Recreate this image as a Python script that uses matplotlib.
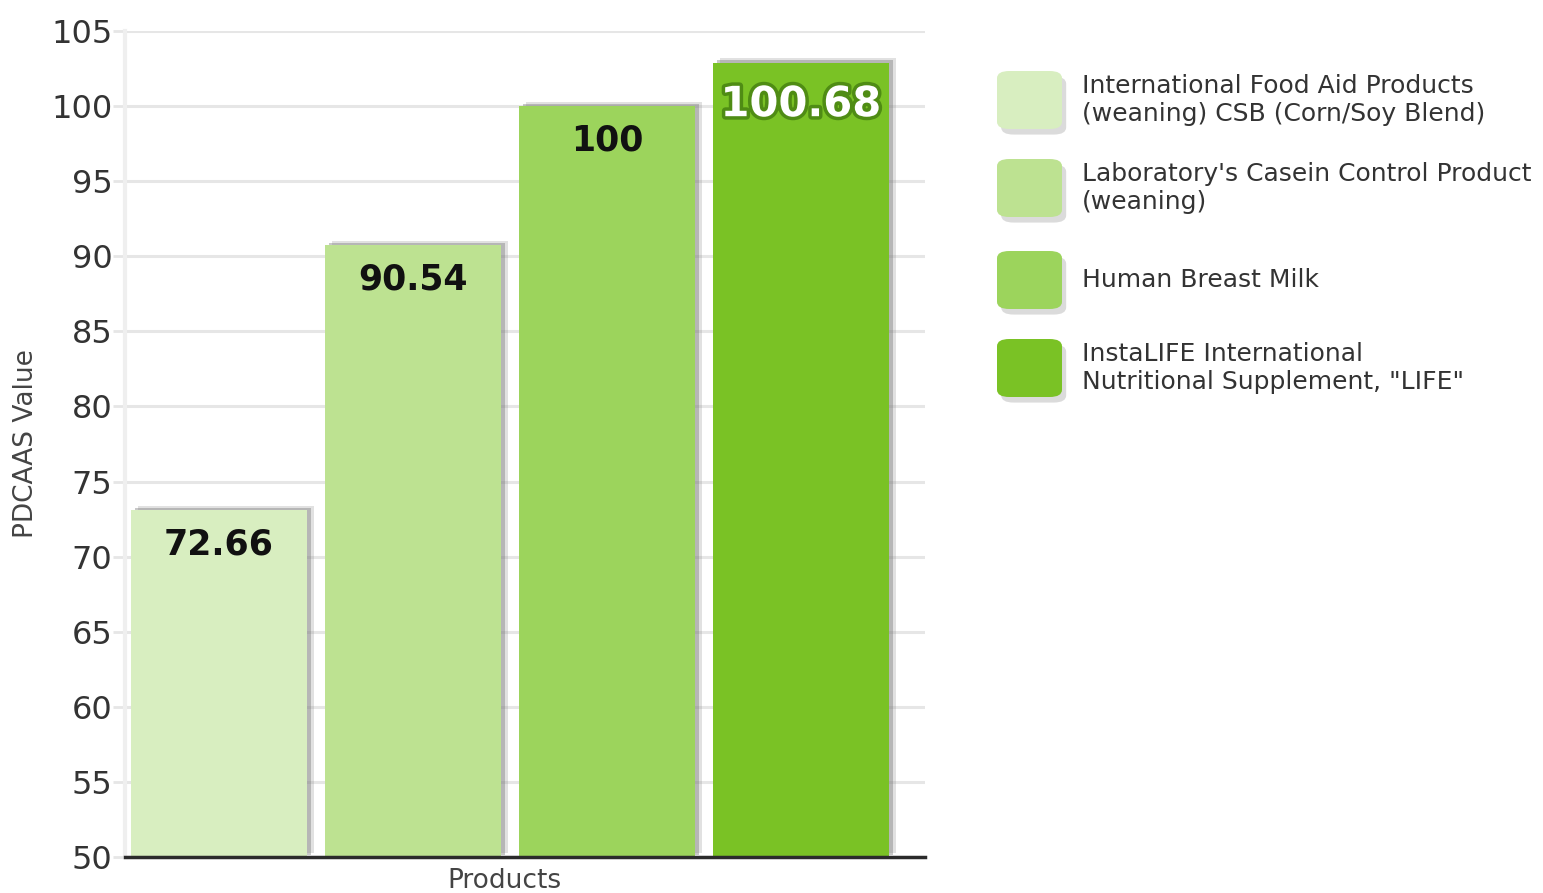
import matplotlib
matplotlib.use('Agg')
import matplotlib.pyplot as plt
import matplotlib.patheffects as pe
from matplotlib.patches import FancyBboxPatch
import numpy as np

products = ['International Food Aid Products\n(weaning) CSB (Corn/Soy Blend)',
            "Laboratory's Casein Control Product\n(weaning)",
            'Human Breast Milk',
            'InstaLIFE International\nNutritional Supplement, "LIFE"']
# bar heights as drawn in the picture, and the printed labels
heights = [73.1, 90.75, 100.0, 102.9]
labels = ['72.66', '90.54', '100', '100.68']
colors = ['#d8eec0', '#bde291', '#9cd45c', '#7ac225']
yticks = list(range(50, 106, 5))

plt.rcParams['font.family'] = ['DejaVu Sans']

fig = plt.figure(figsize=(15.43, 8.93), dpi=100)
ax = fig.add_axes([0.081, 0.0403, 0.5185, 0.925])

x = np.arange(len(heights))
shadow = [pe.SimplePatchShadow(offset=(5, 3), shadow_rgbFace='#888888', alpha=0.25),
          pe.SimplePatchShadow(offset=(3, 1.5), shadow_rgbFace='#777777', alpha=0.4),
          pe.Normal()]
bars = ax.bar(x, [h - 50 for h in heights], bottom=50, width=0.91, color=colors, zorder=3)
for b in bars:
    b.set_path_effects(shadow)

for xi, h, lab, c in zip(x, heights, labels, colors):
    if lab == '100.68':
        ax.annotate(lab, (xi, h), xytext=(0, -30), textcoords='offset points',
                    ha='center', va='center', fontsize=30, fontweight='bold', color='white',
                    zorder=5, path_effects=[pe.withStroke(linewidth=5, foreground='#4f8c14')])
    else:
        ax.annotate(lab, (xi, h), xytext=(0, -25), textcoords='offset points',
                    ha='center', va='center', fontsize=25, fontweight='bold', color='#111111',
                    zorder=5)

ax.set_xlim(-0.485, 3.64)
ax.set_ylim(50, 105)
ax.set_yticks(yticks)
ax.set_yticklabels([str(t) for t in yticks], fontsize=23, color='#333333')
ax.tick_params(axis='y', length=9, width=2, color='#e6e6e6', pad=0)
ax.set_xticks([])
ax.yaxis.grid(True, color='#e6e6e6', linewidth=2.2, zorder=0)
ax.set_axisbelow(True)
for s in ['top', 'right']:
    ax.spines[s].set_visible(False)
ax.spines['left'].set_color('#efefef')
ax.spines['left'].set_linewidth(3)
ax.spines['bottom'].set_color('#2b2b2b')
ax.spines['bottom'].set_linewidth(2.5)
ax.spines['bottom'].set_zorder(6)

ax.set_ylabel('PDCAAS Value', fontsize=19, color='#444444')
ax.yaxis.set_label_coords(-0.107, 0.5)
ax.set_xlabel('Products', fontsize=19, color='#444444')
ax.xaxis.set_label_coords(0.474, -0.013)
ax.xaxis.label.set_va('top')

# legend drawn by hand on the right
W, H = 1543, 893
ys = [100, 188, 280, 368]
for yc, name, c in zip(ys, products, colors):
    box = FancyBboxPatch(((997) / W, (H - yc - 29) / H), 65 / W, 58 / H,
                         boxstyle='round,pad=0,rounding_size=0.008',
                         transform=fig.transFigure, facecolor=c, edgecolor='none',
                         path_effects=[pe.SimplePatchShadow(offset=(3, -4), shadow_rgbFace='#888888', alpha=0.3),
                                       pe.Normal()])
    fig.patches.append(box)
    fig.text(1082 / W, (H - yc) / H, name, fontsize=18, color='#333333',
             va='center', ha='left', linespacing=1.2)

fig.savefig('out.png', dpi=100)
